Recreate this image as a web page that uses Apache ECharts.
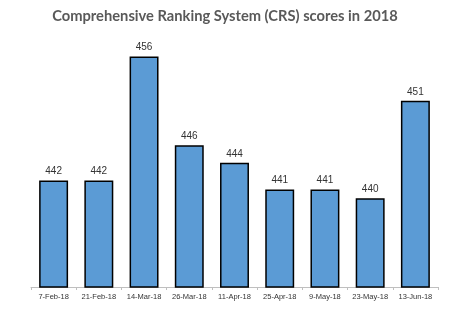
<!DOCTYPE html>
<html><head><meta charset="utf-8">
<script src="https://cdn.jsdelivr.net/npm/echarts@6/dist/echarts.min.js"></script>
<style>html,body{margin:0;padding:0;background:#fff}#c{width:450px;height:325px}</style>
</head><body><div id="c"></div>
<script>
var categories = ['7-Feb-18','21-Feb-18','14-Mar-18','26-Mar-18','11-Apr-18','25-Apr-18','9-May-18','23-May-18','13-Jun-18'];
var scores = [442,442,456,446,444,441,441,440,451];
var chart = echarts.init(document.getElementById('c'));
chart.setOption({
  animation:false,
  title:{text:'Comprehensive Ranking System (CRS) scores in 2018',left:'center',top:4,
    textStyle:{fontFamily:'Lato',fontWeight:'bold',fontSize:14.7,color:'#595959'}},
  grid:{left:31,right:12,top:21,bottom:38},
  xAxis:{type:'category',data:categories,
    axisLine:{lineStyle:{color:'#bfbfbf',width:1}},
    axisTick:{show:true,length:3,lineStyle:{color:'#bfbfbf'}},
    axisLabel:{fontSize:7.5,color:'#333',fontFamily:'Liberation Sans',margin:6,interval:0}},
  yAxis:{type:'value',min:430,max:460,show:false,splitLine:{show:false}},
  series:[{type:'bar',data:scores,barWidth:'64%',
    itemStyle:{color:'#5B9BD5',borderColor:'#000',borderWidth:1.5},
    label:{show:true,position:'top',distance:4,fontSize:10,color:'#333',fontFamily:'Liberation Sans'}}]
});
</script></body></html>
